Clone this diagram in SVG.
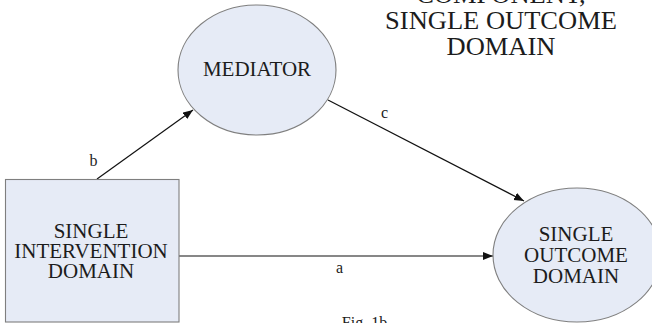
<svg xmlns="http://www.w3.org/2000/svg" width="652" height="323" viewBox="0 0 652 323">
<style>
.node{fill:#e6ebf6;stroke:#7f7f7f;stroke-width:1.1}
.lbl{font-family:"Liberation Serif","Times New Roman",serif;font-size:21px;fill:#1c1c1c;text-anchor:middle}
.edge{stroke:#111;stroke-width:1.2;fill:none;marker-end:url(#ah)}
.el{font-family:"Liberation Serif","Times New Roman",serif;font-size:16px;fill:#1c1c1c;text-anchor:middle}
.title{font-family:"Liberation Serif","Times New Roman",serif;font-size:26.5px;fill:#1c1c1c;text-anchor:middle}
</style>
<defs>
<marker id="ah" markerUnits="userSpaceOnUse" markerWidth="12" markerHeight="10" refX="10" refY="4" orient="auto">
<path d="M0,0 L10,4 L0,8 Z" fill="#111"/>
</marker>
</defs>
<rect width="652" height="323" fill="#fff"/>
<g id="title" transform="translate(501,0) scale(1,0.92)">
<text class="title" x="0" y="3">COMPONENT,</text>
<text class="title" x="0" y="31.8">SINGLE OUTCOME</text>
<text class="title" x="0" y="59.8">DOMAIN</text>
</g>
<g id="connectors">
<line class="edge" x1="97" y1="179" x2="193" y2="110"/>
<line class="edge" x1="328" y1="100" x2="524" y2="201"/>
<line class="edge" x1="179" y1="256" x2="493" y2="256"/>
<text class="el" x="93.5" y="166">b</text>
<text class="el" x="384.5" y="118">c</text>
<text class="el" x="339.5" y="272.5">a</text>
</g>
<g id="mediator">
<ellipse class="node" cx="257" cy="70" rx="79" ry="65"/>
<text class="lbl" x="257" y="76">MEDIATOR</text>
</g>
<g id="intervention">
<rect class="node" x="5.5" y="179.5" width="173.5" height="142.5"/>
<text class="lbl" x="91" y="237.5" font-size="22">SINGLE</text>
<text class="lbl" x="91" y="257.5" font-size="22">INTERVENTION</text>
<text class="lbl" x="91" y="278" font-size="22">DOMAIN</text>
</g>
<g id="outcome">
<ellipse class="node" cx="577" cy="255" rx="84" ry="67"/>
<text class="lbl" x="576" y="240.5">SINGLE</text>
<text class="lbl" x="576" y="262">OUTCOME</text>
<text class="lbl" x="576" y="283">DOMAIN</text>
</g>
<text class="el" x="364.5" y="327.5" font-size="16.5">Fig. 1b</text>
</svg>
